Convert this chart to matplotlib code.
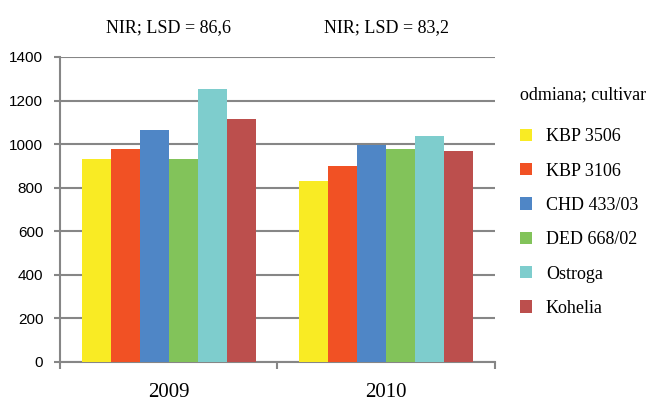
import matplotlib
matplotlib.use("Agg")
import matplotlib.pyplot as plt
import matplotlib.transforms as mtransforms
import numpy as np

# ---------- data ----------
years = ["2009", "2010"]
cultivars = ["KBP 3506", "KBP 3106", "CHD 433/03", "DED 668/02", "Ostroga", "Kohelia"]
values_2009 = [932, 978, 1064, 930, 1251, 1114]
values_2010 = [831, 901, 996, 976, 1038, 967]
lsd_labels = ["NIR; LSD = 86,6", "NIR; LSD = 83,2"]
colors = ["#F9EB24", "#F15124", "#4F86C6", "#82C35A", "#7ECDCD", "#BC4F4D"]
yticks = [0, 200, 400, 600, 800, 1000, 1200, 1400]

GRAY = "#868686"
SERIF = ["Liberation Serif", "DejaVu Serif"]
SANS = ["Liberation Sans", "DejaVu Sans"]

fig = plt.figure(figsize=(6.57, 4.01), dpi=100)
ax = fig.add_axes([0.0913, 0.0973, 0.662, 0.7606])

data = np.array([values_2009, values_2010])  # years x cultivars
n = len(cultivars)
group = 0.8
w = group / n
centers = np.arange(len(years)) + 0.5
for i, name in enumerate(cultivars):
    x = centers - group / 2 + w * (i + 0.5)
    ax.bar(x, data[:, i], width=w, color=colors[i], label=name,
           linewidth=0, zorder=3)

ax.set_xlim(0, len(years))
ax.set_ylim(0, 1400)
ax.set_yticks(yticks)
ax.yaxis.grid(True, color=GRAY, linewidth=1.5, zorder=0)
ax.set_axisbelow(True)

for s in ("top", "right"):
    ax.spines[s].set_visible(False)
for s in ("left", "bottom"):
    ax.spines[s].set_color(GRAY)
    ax.spines[s].set_linewidth(1.5)

ax.tick_params(axis="y", length=4, width=1.5, color=GRAY, pad=8,
               labelsize=11, labelcolor="black")
for lab in ax.get_yticklabels():
    lab.set_family(SANS)

# year labels at group centres, boundary ticks as minor ticks
ax.set_xticks(centers)
ax.set_xticklabels(years, family=SERIF, fontsize=15)
ax.tick_params(axis="x", which="major", length=0, pad=15)
ax.set_xticks(np.arange(len(years) + 1), minor=True)
ax.tick_params(axis="x", which="minor", length=5, width=1.5, color=GRAY)

# LSD annotations above each group
trans = mtransforms.blended_transform_factory(ax.transData, fig.transFigure)
for c, txt in zip(centers, lsd_labels):
    ax.text(c, 0.921, txt, transform=trans, ha="center", va="baseline",
            family=SERIF, fontsize=13)

leg = fig.legend(loc="upper left", bbox_to_anchor=(0.792, 0.785),
                 frameon=False, title="odmiana; cultivar",
                 prop={"family": SERIF, "size": 13},
                 title_fontproperties={"family": SERIF, "size": 13},
                 alignment="left", handlelength=0.66, handleheight=0.66,
                 handletextpad=0.75, labelspacing=0.96, borderpad=0,
                 borderaxespad=0)
leg._legend_box.sep = 18

fig.savefig("out.png", dpi=100)
